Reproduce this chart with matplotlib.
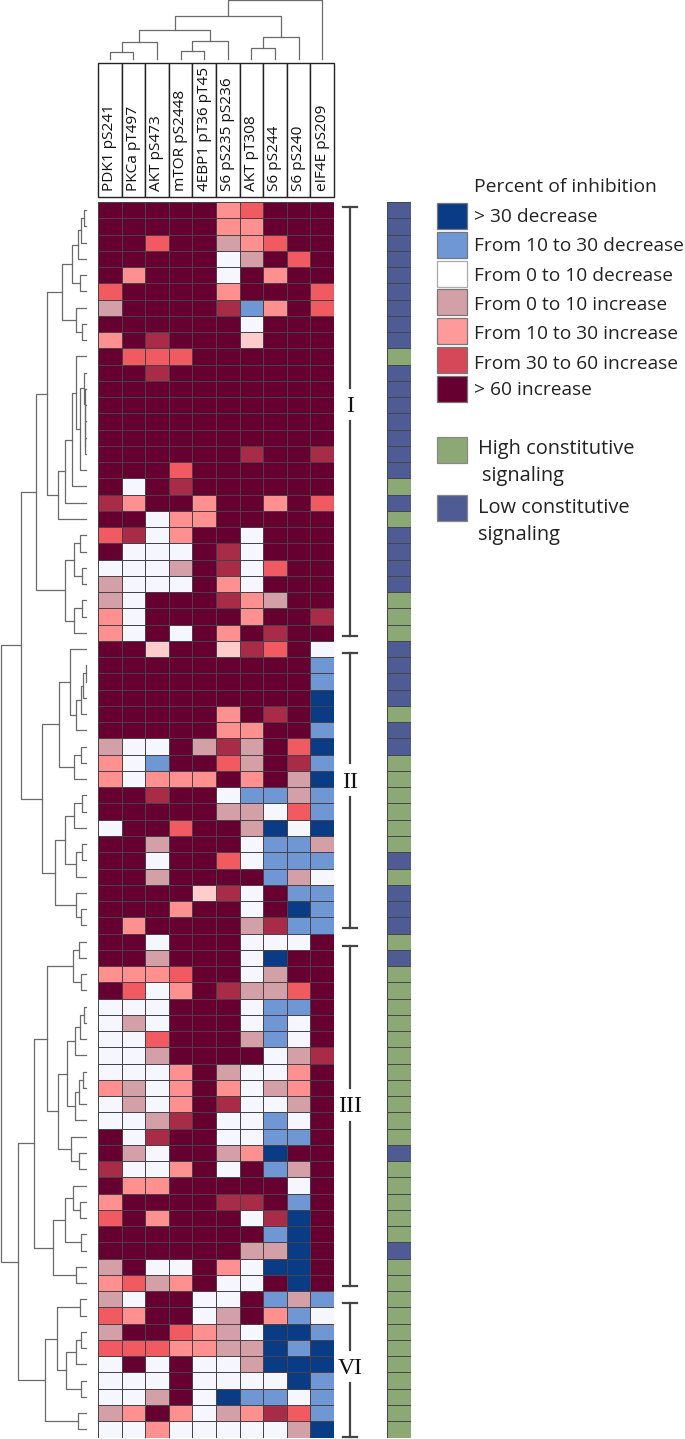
import matplotlib
matplotlib.use('Agg')
import matplotlib.pyplot as plt
from matplotlib.colors import ListedColormap
from matplotlib.patches import Rectangle
import numpy as np

W, H = 685, 1439

markers = ['PDK1 pS241', 'PKCa pT497', 'AKT pS473', 'mTOR pS2448', '4EBP1 pT36 pT45',
           'S6 pS235 pS236', 'AKT pT308', 'S6 pS244', 'S6 pS240', 'eIF4E pS209']

# one letter per cell: N navy, B blue, W white, P dusty pink, S salmon,
# L light pink, R red, C crimson, D dark
heat_rows = [
    'DDDDDSRDDD', 'DDDDDSSDDD', 'DDRDDPSRDD', 'DDDDDWPDRD', 'DSDDDWDSDD',
    'RDDDDSDDDR', 'PDDDDCBSDR', 'DDDDDDWDDD', 'SDCDDDLDDD', 'DRRRDDDDDD',
    'DDCDDDDDDD', 'DDDDDDDDDD', 'DDDDDDDDDD', 'DDDDDDDDDD', 'DDDDDDDDDD',
    'DDDDDDCDDC', 'DDDRDDDDDD', 'DWDCDDDDDD', 'CSDDSDDSDR', 'DDWSSDDDDD',
    'RCWSDDWDDD', 'DWWWDCWDDD', 'WWWPDCWRDD', 'PWWWDSWDDD', 'PWDDDCSPDD',
    'SWDDDDSDDC', 'SWDWDSDCDD', 'DDLDDLCRDW', 'DDDDDDDDDB', 'DDDDDDDDDB',
    'DDDDDDDDDN', 'DDDDDSDCDN', 'DDDDDSSDDB', 'PWWDPCPDRN', 'SWBDDRPDCB',
    'SWSSSDSDPN', 'DDCDDWBBPB', 'DDDDDPPWRB', 'WDDRDDPNWN', 'DDPDDDWBBP',
    'DDWDDRWBBB', 'DDPDDDDBPW', 'DDDDLCWDBB', 'DDDSDDWDNB', 'DSDDDDPCBB',
    'DDWDDDWWWD', 'DDPDDDWNDD', 'SSSRDDWPDD', 'DRWSDCPPRD', 'WWWDDDWBBD',
    'WPWDDDWBWD', 'WWRDDDPBWD', 'WWPDDDDWPC', 'WWWSDPWWSD', 'SPWSDSWPSD',
    'WPWSDCWWPD', 'WWPCDWWBWD', 'DWCDDWWBBD', 'DPWDDPSNDD', 'CWWSDWDBPD',
    'DSSDDDDDWD', 'SDDDDCCDBD', 'RDSDDDWCND', 'DDDDDDDBND', 'DDDDDDPPND',
    'PDWWDSWNND', 'SRPSDWWDND', 'PWDDWWDBPB', 'RSDDWPDSBW', 'PDDRSPWNNB',
    'RRRSSPPNBN', 'WDWDWWPNNN', 'WWWDWWWWNB', 'WWPDWNBBWB', 'PSDSWPSCRB',
    'WWSWWWWWPN',
]
# H high constitutive, L low constitutive
signaling = ('LLLLLLLLL' 'H' 'LLLLLLL' 'H' 'L' 'H' 'LLLL' 'HHH' 'LLLL' 'H' 'LL' 'HHHHHH'
             'L' 'H' 'LLL' 'H' 'L' 'HHHHHHHHHHH' 'L' 'HHHHH' 'L' 'HHHHHHHHHHH')

# dendrograms: (merge position in pixels, child, child), plain ints are leaves
row_tree = (1,
    (21,
        (36,
            (47,
                (62,
                    (72, (78, (81, (84, 0, 1), 2), 3), (80, 4, 5)),
                    (76, 6, (82, 7, 8))),
                (58,
                    (65,
                        (72, (76, 9, (80, (84, 10, (85, 11, (85, 12, (85, 13, (85, 14, 15))))), 16)), 17),
                        18),
                    19)),
            (65,
                (74, (80, 20, 21), (82, 22, 23)),
                (74, (82, 24, 25), 26))),
        (42,
            (59,
                (70, 27, (76, (81, (83, (86, 28, 29), 30), 31), 32)),
                (74, (81, 33, 34), 35)),
            (55,
                (65, (74, (82, 36, 37), 38), (76, (82, 39, 40), 41)),
                (76, 42, (81, 43, 44))))),
    (18,
        (34,
            (47,
                (73, (79, 45, 46), (81, 47, 48)),
                (58,
                    (67,
                        (75, (80, (84, 49, 50), 51), 52),
                        (75, (79, (83, 53, 54), 55), 56)),
                    (71, 57, (79, 58, 59)))),
            (53,
                (65, (73, 60, (80, 61, 62)), (81, 63, 64)),
                (76, 65, 66))),
        (45,
            (57,
                (80, 67, 68),
                (66, (76, (81, 69, 70), 71), (81, 72, 73))),
            (78, 74, 75))))

col_tree = (0,
    (16,
        (30,
            (42, (52, 0, 1), 2),
            (41, (51, 3, 4), 5)),
        (37, (48, 6, 7), 8)),
    9)

cluster_names = ['I', 'II', 'III', 'VI']
legend_heat = ['> 30 decrease', 'From 10 to 30 decrease', 'From 0 to 10 decrease',
               'From 0 to 10 increase', 'From 10 to 30 increase', 'From 30 to 60 increase',
               '> 60 increase']

heat_codes = 'NBWPSLRCD'
heat_colors = ['#0A3C85', '#6F97D3', '#F5F6FE', '#D2A0A6', '#FF9090', '#FFCCCC', '#F25A62', '#A82C48', '#650030']
legend_colors = ['#0A3C85', '#6F97D3', '#FFFFFF', '#D2A0A6', '#FF9A9A', '#D5485A', '#650030']
high_color = '#8CA875'
low_color = '#4F5B93'
line_color = '#6a6a6a'

plt.rcParams['font.family'] = ['Open Sans', 'DejaVu Sans']

fig = plt.figure(figsize=(W / 100, H / 100), dpi=100)


def add_pixel_axes(x0, y0, x1, y1):
    return fig.add_axes([x0 / W, 1 - y1 / H, (x1 - x0) / W, (y1 - y0) / H])


# heatmap
left, right, top, bottom = 98, 334, 202, 1437.5
ax = add_pixel_axes(left, top, right, bottom)
grid = np.array([[heat_codes.index(c) for c in row] for row in heat_rows])
ax.pcolormesh(grid, cmap=ListedColormap(heat_colors), vmin=-0.5, vmax=8.5,
              edgecolors='#4a4048', linewidth=0.6)
ax.set_ylim(len(heat_rows), 0)
ax.axis('off')

# constitutive signaling strip
side = add_pixel_axes(387, top, 411, bottom)
side_vals = np.array([[0 if s == 'H' else 1] for s in signaling])
side.pcolormesh(side_vals, cmap=ListedColormap([high_color, low_color]), vmin=0, vmax=1,
                edgecolors='#45454d', linewidth=0.6)
side.set_ylim(len(signaling), 0)
side.axis('off')

# everything else is placed in pixel coordinates
over = fig.add_axes([0, 0, 1, 1], zorder=-1)
over.set_xlim(0, W)
over.set_ylim(H, 0)
over.axis('off')


def draw_tree(node, leaf_pos, leaf_h, horizontal):
    if isinstance(node, int):
        return leaf_pos(node), leaf_h
    h, a, b = node
    pa, ha = draw_tree(a, leaf_pos, leaf_h, horizontal)
    pb, hb = draw_tree(b, leaf_pos, leaf_h, horizontal)
    if horizontal:
        over.plot([ha, h, h, hb], [pa, pa, pb, pb], color=line_color, lw=0.9)
    else:
        over.plot([pa, pa, pb, pb], [ha, h, h, hb], color=line_color, lw=0.9)
    return (pa + pb) / 2, h


row_h = (bottom - top) / len(heat_rows)
col_w = (right - left) / len(markers)
draw_tree(row_tree, lambda i: top + (i + 0.5) * row_h, 86, True)
draw_tree(col_tree, lambda i: left + (i + 0.5) * col_w, 59, False)

# rotated marker labels in their boxes
for i, name in enumerate(markers):
    over.add_patch(Rectangle((left + i * col_w, 63), col_w, 134, fc='white', ec='#222222', lw=1.0))
    over.text(left + (i + 0.5) * col_w, 191, name, rotation=90, ha='center', va='bottom',
              fontsize=11.1, color='#111111')

# cluster brackets: top, end of upper line, start of lower line, bottom, label centre
bracket_spans = [(207, 388, 421, 636, 406), (653, 763, 797, 928, 782),
                 (946, 1088, 1122, 1286, 1107), (1303, 1350, 1383, 1437, 1368)]
for name, (y0, y1, y2, y3, yl) in zip(cluster_names, bracket_spans):
    over.plot([350, 350], [y0, y1], color='#444444', lw=1.6)
    over.plot([350, 350], [y2, y3], color='#444444', lw=1.6)
    over.plot([343, 357], [y0, y0], color='#444444', lw=1.6)
    over.plot([343, 357], [y3, y3], color='#444444', lw=1.6)
    over.text(350, yl, name, family='Liberation Serif', fontsize=17, ha='center', va='center', color='#111111')

# legend
txt = '#222222'
over.text(474, 187, 'Percent of inhibition', fontsize=13.9, va='center', color=txt)
swatch_tops = [203, 232, 261, 289, 318, 347, 376]
text_ys = [217, 246, 276, 305, 334, 364, 390]
for lab, col, st, ty in zip(legend_heat, legend_colors, swatch_tops, text_ys):
    edge = '#aaaaaa' if col == '#FFFFFF' else '#777777'
    over.add_patch(Rectangle((437, st), 30, 26, fc=col, ec=edge, lw=0.9))
    over.text(474, ty, lab, fontsize=13.8, va='center', color=txt)

over.add_patch(Rectangle((437, 437), 30, 26, fc=high_color, ec='#888888', lw=0.9))
over.add_patch(Rectangle((437, 495), 30, 26, fc=low_color, ec='#888888', lw=0.9))
over.text(478, 449, 'High constitutive', fontsize=14.4, va='center', color=txt)
over.text(482, 476, 'signaling', fontsize=14.4, va='center', color=txt)
over.text(478, 508, 'Low constitutive', fontsize=14.4, va='center', color=txt)
over.text(478, 535, 'signaling', fontsize=14.4, va='center', color=txt)

fig.savefig('out.png', dpi=100)
